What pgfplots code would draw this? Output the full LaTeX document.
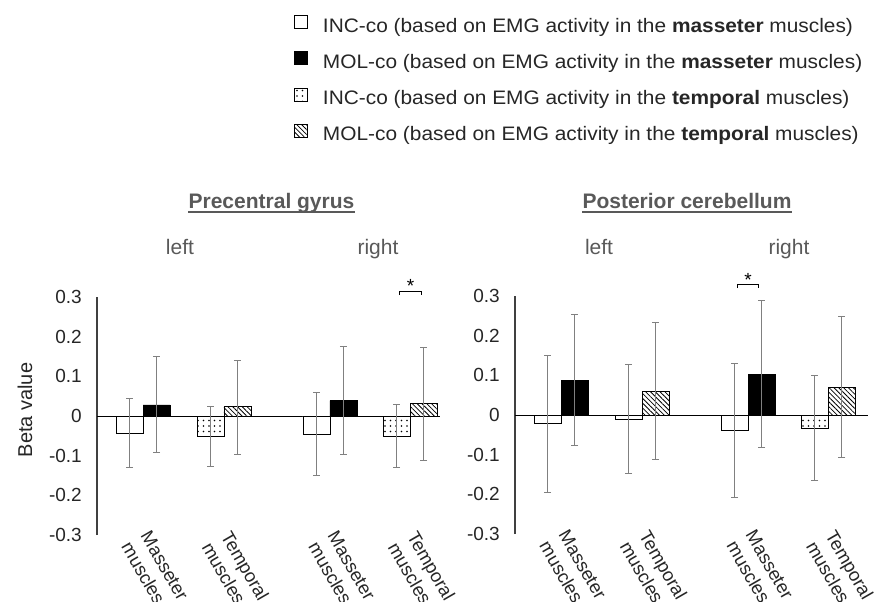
\documentclass[border=0pt]{standalone}
\usepackage{fontspec}
\setmainfont{Liberation Sans}
\newfontfamily\legfont{Liberation Sans}[FakeStretch=1.07]
\usepackage{pgfplots}
\pgfplotsset{compat=1.18}
\usepackage{pgfplotstable}
\usetikzlibrary{patterns.meta}

\definecolor{titlegray}{HTML}{595959}
\definecolor{errgray}{HTML}{808080}
\definecolor{axgray}{HTML}{404040}
\definecolor{txt}{HTML}{262626}

% Precentral gyrus (x = bar centre; groups at 0, 1, 2.31, 3.30)
\pgfplotstableread{
x y ep em
-0.1667 -0.044 0.089 0.086
2.1433 -0.046 0.105 0.104
}\PincM
\pgfplotstableread{
x y ep em
0.1667 0.028 0.122 0.119
2.4767 0.039 0.136 0.135
}\PmolM
\pgfplotstableread{
x y ep em
0.8333 -0.052 0.075 0.076
3.1333 -0.052 0.081 0.078
}\PincT
\pgfplotstableread{
x y ep em
1.1667 0.023 0.118 0.121
3.4667 0.031 0.141 0.144
}\PmolT
% Posterior cerebellum
\pgfplotstableread{
x y ep em
-0.1667 -0.021 0.171 0.175
2.1433 -0.039 0.169 0.168
}\CincM
\pgfplotstableread{
x y ep em
0.1667 0.0875 0.1665 0.1655
2.4767 0.102 0.186 0.185
}\CmolM
\pgfplotstableread{
x y ep em
0.8333 -0.011 0.139 0.137
3.1333 -0.033 0.133 0.131
}\CincT
\pgfplotstableread{
x y ep em
1.1667 0.060 0.173 0.171
3.4667 0.069 0.179 0.177
}\CmolT

\newcommand\fs[1]{\fontsize{#1bp}{1.2\dimexpr#1bp\relax}\selectfont}

\pgfplotsset{
  panel/.style={
    scale only axis, height=238bp,
    ymin=-0.3, ymax=0.3, xmin=-0.57,
    axis lines*=left,
    x axis line style={draw=none},
    y axis line style={axgray, line width=1.1bp},
    major tick length=0pt,
    ytick={-0.3,-0.2,-0.1,0,0.1,0.2,0.3},
    yticklabels={-0.3,-0.2,-0.1,0,0.1,0.2,0.3},
    yticklabel style={font=\fs{19}, text=txt, inner sep=0pt, anchor=east, xshift=-15bp},
    xtick={0,1,2.31,3.30},
    xticklabels={Masseter\\muscles,Temporal\\muscles,Masseter\\muscles,Temporal\\muscles},
    xticklabel style={font=\fs{18.5}, text=txt, rotate=-60, anchor=north west, align=left,
      inner sep=0pt, yshift=10bp, xshift=-1bp},
    clip=false,
  },
  sqleg/.style={legend image code/.code={\draw[##1] (0bp,-1.5bp) rectangle (13bp,11.5bp);}},
  bars/.style={ybar, bar width=27bp, bar shift=0pt, draw=black, line width=0.8bp, sqleg,
    error bars/y dir=both, error bars/y explicit,
    error bars/error bar style={errgray, line width=0.9bp},
    error bars/error mark options={rotate=90, errgray, mark size=3.5bp, line width=0.9bp}},
  incM/.style={bars, fill=white},
  molM/.style={bars, fill=black},
  incT/.style={bars, pattern={Dots[distance=5.5bp, radius=0.9bp]}, pattern color=black},
  molT/.style={bars, pattern={Lines[angle=-45, distance=3.4bp, line width=0.8bp]}, pattern color=black},
}

\begin{document}
\begin{tikzpicture}
\path[use as bounding box] (0,0) rectangle (874bp,-602bp);

% Left panel
\begin{axis}[panel, width=343bp, xmax=3.67, at={(97bp,-535bp)}, anchor=south west,
  legend style={at={(axis description cs:0.5743,2.185)}, anchor=north west, draw=none, fill=none,
    font=\legfont\fs{19.5}, text=txt, legend cell align=left, inner sep=0pt, row sep=15.3bp,
    nodes={inner sep=0pt, text height=14bp, text depth=4bp},
    /tikz/every odd column/.append style={column sep=15bp}}]
  \draw[black, line width=0.9bp] (axis cs:-0.57,0) -- (axis cs:3.67,0);
  \addplot[incM] table[x=x, y=y, y error plus=ep, y error minus=em] {\PincM};
  \addlegendentry{INC-co (based on EMG activity in the \textbf{masseter} muscles)}
  \addplot[molM] table[x=x, y=y, y error plus=ep, y error minus=em] {\PmolM};
  \addlegendentry{MOL-co (based on EMG activity in the \textbf{masseter} muscles)}
  \addplot[incT] table[x=x, y=y, y error plus=ep, y error minus=em] {\PincT};
  \addlegendentry{INC-co (based on EMG activity in the \textbf{temporal} muscles)}
  \addplot[molT] table[x=x, y=y, y error plus=ep, y error minus=em] {\PmolT};
  \addlegendentry{MOL-co (based on EMG activity in the \textbf{temporal} muscles)}
  \draw[black, line width=0.9bp] (axis cs:3.17,0.305) -- (axis cs:3.17,0.315) -- (axis cs:3.44,0.315) -- (axis cs:3.44,0.305);
  \node[anchor=base, font=\fs{19}, inner sep=0pt] at (axis cs:3.305,0.3125) {*};
\end{axis}

% Right panel
\begin{axis}[panel, width=353bp, xmax=3.79, at={(515bp,-534bp)}, anchor=south west]
  \draw[black, line width=0.9bp] (axis cs:-0.57,0) -- (axis cs:3.79,0);
  \addplot[incM] table[x=x, y=y, y error plus=ep, y error minus=em] {\CincM};
  \addplot[molM] table[x=x, y=y, y error plus=ep, y error minus=em] {\CmolM};
  \addplot[incT] table[x=x, y=y, y error plus=ep, y error minus=em] {\CincT};
  \addplot[molT] table[x=x, y=y, y error plus=ep, y error minus=em] {\CmolT};
  \draw[black, line width=0.9bp] (axis cs:2.18,0.320) -- (axis cs:2.18,0.330) -- (axis cs:2.44,0.330) -- (axis cs:2.44,0.320);
  \node[anchor=base, font=\fs{19}, inner sep=0pt] at (axis cs:2.31,0.323) {*};
\end{axis}

% y label
\node[rotate=90, font=\fs{20}, text=txt, inner sep=0pt] at (25bp,-410bp) {Beta value};

% titles
\node[anchor=base, font=\fs{21}\bfseries, text=titlegray, inner sep=0pt] (t1) at (271.5bp,-208bp) {Precentral gyrus};
\draw[titlegray, line width=1.5bp] ([yshift=-4bp]t1.base west) -- ([yshift=-4bp]t1.base east);
\node[anchor=base, font=\fs{21}\bfseries, text=titlegray, inner sep=0pt] (t2) at (687bp,-208bp) {Posterior cerebellum};
\draw[titlegray, line width=1.5bp] ([yshift=-4bp]t2.base west) -- ([yshift=-4bp]t2.base east);

% side labels
\foreach \xx/\tt in {180/left, 378/right, 599/left, 789/right}
  \node[anchor=base, font=\fs{21}, text=titlegray, inner sep=0pt] at (\xx bp,-254bp) {\tt};
\end{tikzpicture}
\end{document}
